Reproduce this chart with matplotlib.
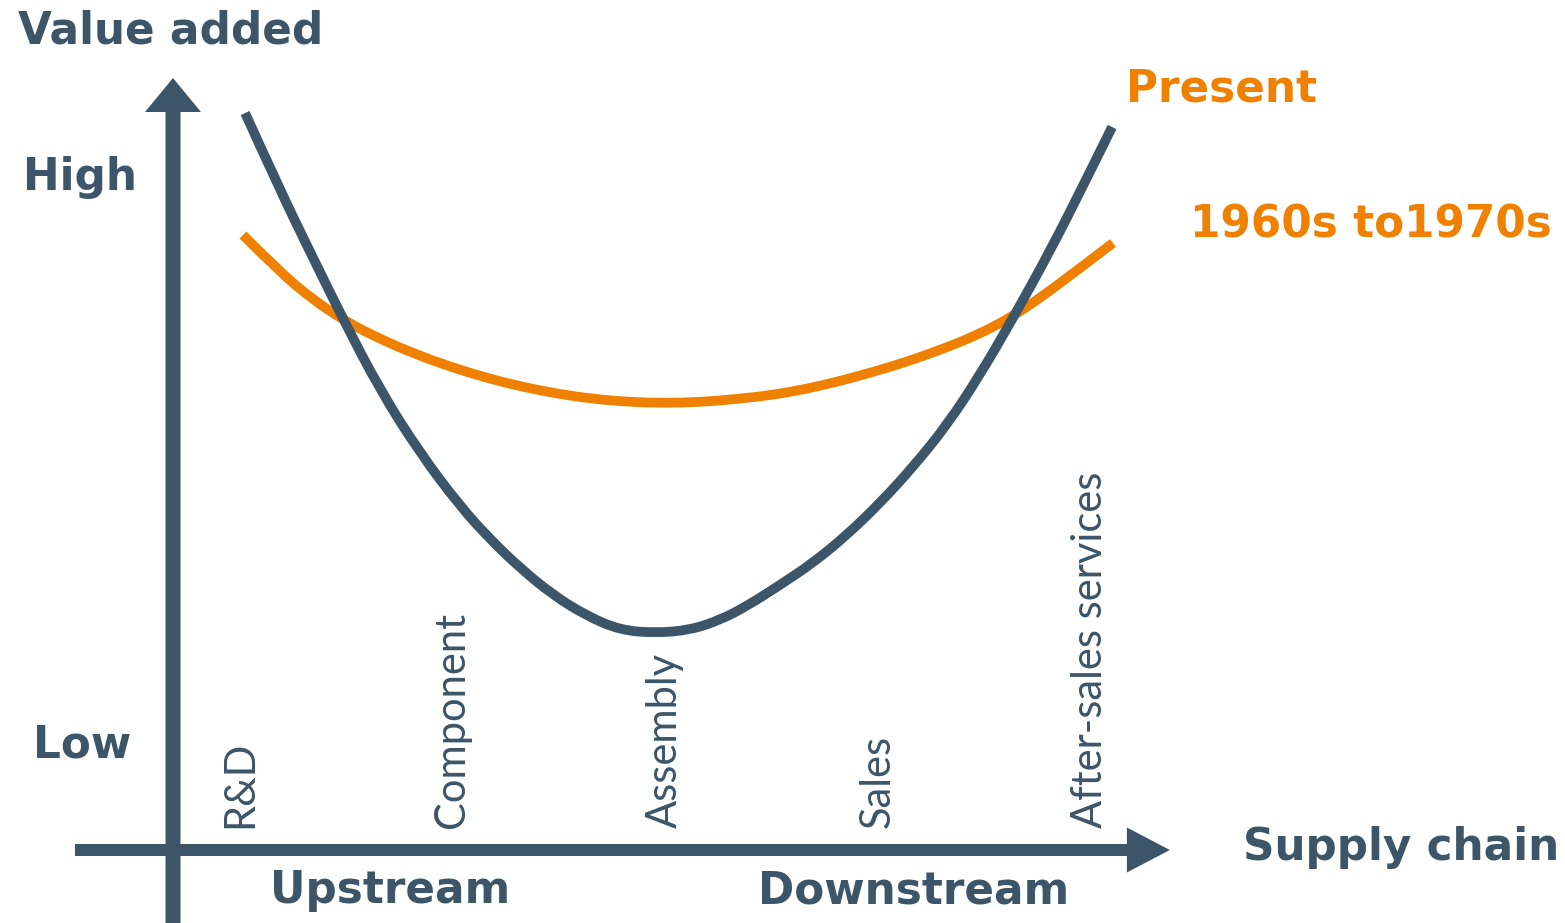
import matplotlib
matplotlib.use("Agg")
import matplotlib.pyplot as plt
from matplotlib.patches import FancyArrow, PathPatch
from matplotlib.path import Path

# smile curve: value added along the supply chain (stage 1 = R&D ... 5 = after-sales)
stages = ["R&D", "Component", "Assembly", "Sales", "After-sales services"]

present_x = [1.024, 1.188, 1.344, 1.485, 1.659, 1.847, 2.035, 2.176, 2.318, 2.473,
             2.633, 2.788, 2.953, 3.118, 3.259, 3.386, 3.541, 3.696, 3.856, 4.012,
             4.167, 4.327, 4.482, 4.638, 4.812, 4.967, 5.104]
present_y = [7.37, 6.60, 5.92, 5.31, 4.60, 3.97, 3.44, 3.11, 2.82, 2.55,
             2.34, 2.20, 2.17, 2.20, 2.30, 2.44, 2.65, 2.87, 3.15, 3.47,
             3.83, 4.25, 4.75, 5.32, 5.99, 6.64, 7.23]

old_x = [1.014, 1.188, 1.339, 1.494, 1.659, 1.824, 1.993, 2.162, 2.332, 2.501,
         2.666, 2.835, 3.005, 3.169, 3.339, 3.504, 3.664, 3.824, 3.979, 4.134,
         4.294, 4.459, 4.624, 4.765, 4.929, 5.108]
old_y = [6.15, 5.78, 5.51, 5.29, 5.11, 4.96, 4.83, 4.72, 4.63, 4.56,
         4.51, 4.48, 4.47, 4.48, 4.51, 4.55, 4.61, 4.69, 4.78, 4.88,
         5.00, 5.14, 5.32, 5.52, 5.78, 6.07]

SLATE = "#3c5568"
ORANGE = "#f08000"
W, H = 1565, 923

fig = plt.figure(figsize=(W / 100, H / 100), dpi=100)
ax = fig.add_axes([0, 0, 1, 1])
ax.set_xlim(-0.1294, 7.2353)
ax.set_ylim(-0.73, 8.5)
ax.axis("off")


def pos(px, py):
    return px / W, 1 - py / H


def smooth_line(xs, ys, color):
    # quadratic bezier through the midpoints, so the drawn line has no corners
    pts = list(zip(xs, ys))
    verts = [pts[0]]
    codes = [Path.MOVETO]
    for i in range(1, len(pts) - 1):
        if i < len(pts) - 2:
            end = ((pts[i][0] + pts[i + 1][0]) / 2, (pts[i][1] + pts[i + 1][1]) / 2)
        else:
            end = pts[-1]
        verts += [pts[i], end]
        codes += [Path.CURVE3, Path.CURVE3]
    ax.add_patch(PathPatch(Path(verts, codes), fill=False, edgecolor=color,
                           lw=7, capstyle="butt"))


# axes with arrow heads
ax.add_patch(FancyArrow(0.6847, -0.8, 0, 8.52, width=0.0706, head_width=0.2635,
                        head_length=0.34, length_includes_head=True,
                        color=SLATE, lw=0))
ax.add_patch(FancyArrow(0.2235, 0.0, 5.1525, 0, width=0.12, head_width=0.45,
                        head_length=0.2024, length_includes_head=True,
                        color=SLATE, lw=0))

smooth_line(old_x, old_y, ORANGE)
smooth_line(present_x, present_y, SLATE)

for i, s in enumerate(stages):
    ax.text(i + 1, 0.22, s, rotation=90, ha="center", va="bottom", color=SLATE,
            fontsize=30, family="Lato")

bold = dict(fontsize=31.5, fontweight="bold", family="DejaVu Sans",
            ha="left", va="baseline", transform=ax.transAxes)
ax.text(*pos(18, 43), "Value added", color=SLATE, **bold)
ax.text(*pos(23, 190), "High", color=SLATE, **bold)
ax.text(*pos(33, 758), "Low", color=SLATE, **bold)
ax.text(*pos(1243, 860), "Supply chain", color=SLATE, **bold)
ax.text(*pos(270, 903), "Upstream", color=SLATE, **bold)
ax.text(*pos(758, 903), "Downstream", color=SLATE, **bold)
ax.text(*pos(1126, 102), "Present", color=ORANGE, **bold)
ax.text(*pos(1190, 238), "1960s to1970s", color=ORANGE, **bold)

fig.savefig("out.png", dpi=100)
